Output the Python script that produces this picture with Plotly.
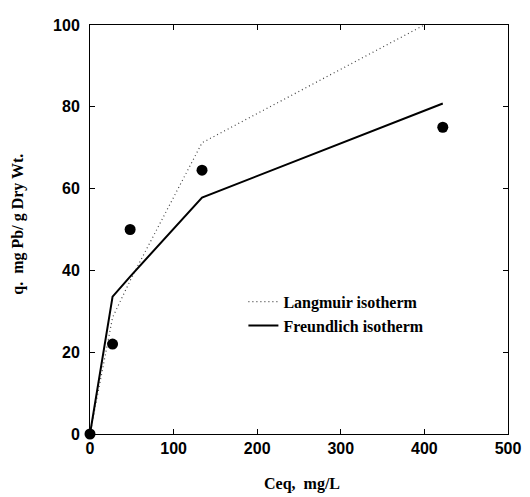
import plotly.graph_objects as go

ceq = [0, 27, 48, 134, 422]
q_obs = [0, 22, 50, 64.5, 75]
q_langmuir = [0, 28.5, 37.5, 71.2, 102.4]
q_freundlich = [0, 33.6, 38.5, 57.8, 80.8]

fig = go.Figure()
fig.add_trace(go.Scatter(x=ceq, y=q_langmuir, mode="lines", name="Langmuir isotherm",
                         line=dict(color="#444444", width=1.2, dash="1px,3px")))
fig.add_trace(go.Scatter(x=ceq, y=q_freundlich, mode="lines", name="Freundlich isotherm",
                         line=dict(color="black", width=2)))
fig.add_trace(go.Scatter(x=ceq, y=q_obs, mode="markers", showlegend=False, cliponaxis=False,
                         marker=dict(color="black", size=11)))

axis_common = dict(showline=True, linecolor="black", linewidth=1, mirror="ticks",
                   ticks="inside", ticklen=5, tickcolor="black", showgrid=False, zeroline=False,
                   tickfont=dict(family="Liberation Sans", size=16, color="black", weight="bold"))
fig.update_xaxes(range=[0, 500], dtick=100, **axis_common)
fig.update_yaxes(range=[0, 100], dtick=20, ticklabelstandoff=6, **axis_common)

# the page adds an 8px body margin: width/height and margins compensate for it
fig.update_layout(
    width=522, height=489,
    margin=dict(l=82, r=14, t=9, b=63),
    paper_bgcolor="white", plot_bgcolor="white",
    legend=dict(x=0.367, y=0.365, xanchor="left", yanchor="top", bgcolor="rgba(0,0,0,0)",
                tracegroupgap=0,
                font=dict(family="Liberation Serif", size=16, color="black", weight="bold")),
    annotations=[
        dict(text="Ceq,  mg/L", xref="paper", yref="paper", x=0.507, y=-0.122,
             xanchor="center", yanchor="middle", showarrow=False,
             font=dict(family="Liberation Serif", size=16, color="black", weight="bold")),
        dict(text="q.  mg Pb/ g Dry Wt.", xref="paper", yref="paper", x=-0.171, y=0.513,
             xanchor="center", yanchor="middle", textangle=-90, showarrow=False,
             font=dict(family="Liberation Serif", size=16, color="black", weight="bold")),
    ],
)

fig.write_html("out.html")
